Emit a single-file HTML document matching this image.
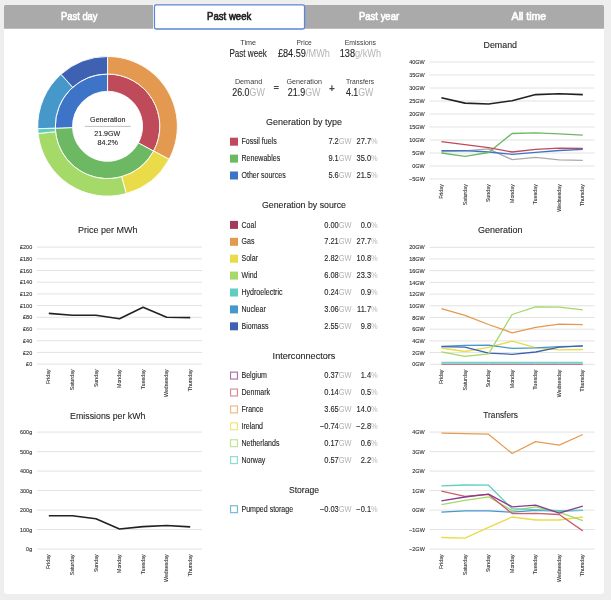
<!DOCTYPE html>
<html><head><meta charset="utf-8"><style>
html,body{margin:0;padding:0;background:#eeeeee;width:611px;height:600px;overflow:hidden;}
.panel{position:absolute;left:4px;top:5px;width:600px;height:589px;background:#fff;border-radius:3px;}
svg{position:absolute;left:0;top:0;font-family:"Liberation Sans", sans-serif;will-change:transform;}
</style></head><body>
<div class="panel"></div>
<svg width="611" height="600" viewBox="0 0 611 600">
<path d="M4,6.5 a1.5,1.5 0 0 1 1.5,-1.5 H602.5 a1.5,1.5 0 0 1 1.5,1.5 V28.8 H4 Z" fill="#aaaaaa"/>
<rect x="153" y="4.5" width="1.2" height="24.5" fill="#fff"/>
<rect x="154.45" y="4.9" width="150.1" height="24.1" rx="1.8" fill="#fff" stroke="#5b87d8" stroke-width="1.3"/>
<text x="79.25" y="20.00" font-size="10.0" text-anchor="middle" fill="#fff" font-weight="normal" stroke="#fff" stroke-width="0.6"  textLength="36.7" lengthAdjust="spacingAndGlyphs">Past day</text>
<text x="229.20" y="20.00" font-size="10.0" text-anchor="middle" fill="#222" font-weight="normal" stroke="#222" stroke-width="0.6"  textLength="44.2" lengthAdjust="spacingAndGlyphs">Past week</text>
<text x="379.05" y="20.00" font-size="10.0" text-anchor="middle" fill="#fff" font-weight="normal" stroke="#fff" stroke-width="0.6"  textLength="40.1" lengthAdjust="spacingAndGlyphs">Past year</text>
<text x="528.90" y="20.00" font-size="10.0" text-anchor="middle" fill="#fff" font-weight="normal" stroke="#fff" stroke-width="0.6"  textLength="34.6" lengthAdjust="spacingAndGlyphs">All time</text>
<path d="M107.55,74.00 A52.3,52.3 0 0 1 153.57,151.14 L138.35,142.92 A35.0,35.0 0 0 0 107.55,91.30 Z" fill="#be4a5a" stroke="#fff" stroke-width="0.9" stroke-linejoin="round"/>
<path d="M153.57,151.14 A52.3,52.3 0 0 1 55.28,128.18 L72.57,127.55 A35.0,35.0 0 0 0 138.35,142.92 Z" fill="#6cb863" stroke="#fff" stroke-width="0.9" stroke-linejoin="round"/>
<path d="M55.28,128.18 A52.3,52.3 0 0 1 107.55,74.00 L107.55,91.30 A35.0,35.0 0 0 0 72.57,127.55 Z" fill="#3d74c8" stroke="#fff" stroke-width="0.9" stroke-linejoin="round"/>
<path d="M107.55,56.50 A69.8,69.8 0 0 1 169.07,159.28 L153.64,151.01 A52.3,52.3 0 0 0 107.55,74.00 Z" fill="#e39a50" stroke="#fff" stroke-width="0.9" stroke-linejoin="round"/>
<path d="M169.07,159.28 A69.8,69.8 0 0 1 126.29,193.54 L121.59,176.68 A52.3,52.3 0 0 0 153.64,151.01 Z" fill="#eadb49" stroke="#fff" stroke-width="0.9" stroke-linejoin="round"/>
<path d="M126.29,193.54 A69.8,69.8 0 0 1 38.12,133.48 L55.53,131.68 A52.3,52.3 0 0 0 121.59,176.68 Z" fill="#a5d968" stroke="#fff" stroke-width="0.9" stroke-linejoin="round"/>
<path d="M38.12,133.48 A69.8,69.8 0 0 1 37.79,128.70 L55.28,128.10 A52.3,52.3 0 0 0 55.53,131.68 Z" fill="#5fcec0" stroke="#fff" stroke-width="0.9" stroke-linejoin="round"/>
<path d="M37.79,128.70 A69.8,69.8 0 0 1 61.02,74.27 L72.69,87.31 A52.3,52.3 0 0 0 55.28,128.10 Z" fill="#4598c9" stroke="#fff" stroke-width="0.9" stroke-linejoin="round"/>
<path d="M61.02,74.27 A69.8,69.8 0 0 1 107.55,56.50 L107.55,74.00 A52.3,52.3 0 0 0 72.69,87.31 Z" fill="#3f61b2" stroke="#fff" stroke-width="0.9" stroke-linejoin="round"/>
<text x="107.75" y="121.70" font-size="7.6" text-anchor="middle" fill="#262626" font-weight="normal" stroke="#262626" stroke-width="0.12"  textLength="35.3" lengthAdjust="spacingAndGlyphs">Generation</text>
<line x1="84.8" y1="126.4" x2="130.9" y2="126.4" stroke="#b0b0b0" stroke-width="0.8"/>
<text x="107.25" y="135.50" font-size="7.6" text-anchor="middle" fill="#262626" font-weight="normal" stroke="#262626" stroke-width="0.12"  textLength="26.0" lengthAdjust="spacingAndGlyphs">21.9GW</text>
<text x="107.60" y="145.40" font-size="7.6" text-anchor="middle" fill="#262626" font-weight="normal" stroke="#262626" stroke-width="0.12"  textLength="20.4" lengthAdjust="spacingAndGlyphs">84.2%</text>
<text x="500.25" y="47.70" font-size="9.9" text-anchor="middle" fill="#262626" font-weight="normal" stroke="#262626" stroke-width="0.12"  textLength="33.5" lengthAdjust="spacingAndGlyphs">Demand</text>
<line x1="429.6" y1="62.00" x2="594.6" y2="62.00" stroke="#e2e2e2" stroke-width="1"/>
<text transform="translate(424.80,64.10) scale(0.93,1)" font-size="5.9" text-anchor="end" fill="#333333" stroke="#333333" stroke-width="0.12">40GW</text>
<line x1="429.6" y1="75.00" x2="594.6" y2="75.00" stroke="#e2e2e2" stroke-width="1"/>
<text transform="translate(424.80,77.10) scale(0.93,1)" font-size="5.9" text-anchor="end" fill="#333333" stroke="#333333" stroke-width="0.12">35GW</text>
<line x1="429.6" y1="88.00" x2="594.6" y2="88.00" stroke="#e2e2e2" stroke-width="1"/>
<text transform="translate(424.80,90.10) scale(0.93,1)" font-size="5.9" text-anchor="end" fill="#333333" stroke="#333333" stroke-width="0.12">30GW</text>
<line x1="429.6" y1="101.00" x2="594.6" y2="101.00" stroke="#e2e2e2" stroke-width="1"/>
<text transform="translate(424.80,103.10) scale(0.93,1)" font-size="5.9" text-anchor="end" fill="#333333" stroke="#333333" stroke-width="0.12">25GW</text>
<line x1="429.6" y1="114.00" x2="594.6" y2="114.00" stroke="#e2e2e2" stroke-width="1"/>
<text transform="translate(424.80,116.10) scale(0.93,1)" font-size="5.9" text-anchor="end" fill="#333333" stroke="#333333" stroke-width="0.12">20GW</text>
<line x1="429.6" y1="127.00" x2="594.6" y2="127.00" stroke="#e2e2e2" stroke-width="1"/>
<text transform="translate(424.80,129.10) scale(0.93,1)" font-size="5.9" text-anchor="end" fill="#333333" stroke="#333333" stroke-width="0.12">15GW</text>
<line x1="429.6" y1="140.00" x2="594.6" y2="140.00" stroke="#e2e2e2" stroke-width="1"/>
<text transform="translate(424.80,142.10) scale(0.93,1)" font-size="5.9" text-anchor="end" fill="#333333" stroke="#333333" stroke-width="0.12">10GW</text>
<line x1="429.6" y1="153.00" x2="594.6" y2="153.00" stroke="#e2e2e2" stroke-width="1"/>
<text transform="translate(424.80,155.10) scale(0.93,1)" font-size="5.9" text-anchor="end" fill="#333333" stroke="#333333" stroke-width="0.12">5GW</text>
<line x1="429.6" y1="166.00" x2="594.6" y2="166.00" stroke="#e2e2e2" stroke-width="1"/>
<text transform="translate(424.80,168.10) scale(0.93,1)" font-size="5.9" text-anchor="end" fill="#333333" stroke="#333333" stroke-width="0.12">0GW</text>
<line x1="429.6" y1="179.00" x2="594.6" y2="179.00" stroke="#e2e2e2" stroke-width="1"/>
<text transform="translate(424.80,181.10) scale(0.93,1)" font-size="5.9" text-anchor="end" fill="#333333" stroke="#333333" stroke-width="0.12">−5GW</text>
<text transform="translate(442.99,184.20) rotate(-90) scale(0.94,1)" font-size="5.6" text-anchor="end" fill="#333333" stroke="#333333" stroke-width="0.1">Friday</text>
<text transform="translate(466.56,184.20) rotate(-90) scale(0.94,1)" font-size="5.6" text-anchor="end" fill="#333333" stroke="#333333" stroke-width="0.1">Saturday</text>
<text transform="translate(490.13,184.20) rotate(-90) scale(0.94,1)" font-size="5.6" text-anchor="end" fill="#333333" stroke="#333333" stroke-width="0.1">Sunday</text>
<text transform="translate(513.70,184.20) rotate(-90) scale(0.94,1)" font-size="5.6" text-anchor="end" fill="#333333" stroke="#333333" stroke-width="0.1">Monday</text>
<text transform="translate(537.27,184.20) rotate(-90) scale(0.94,1)" font-size="5.6" text-anchor="end" fill="#333333" stroke="#333333" stroke-width="0.1">Tuesday</text>
<text transform="translate(560.84,184.20) rotate(-90) scale(0.94,1)" font-size="5.6" text-anchor="end" fill="#333333" stroke="#333333" stroke-width="0.1">Wednesday</text>
<text transform="translate(584.41,184.20) rotate(-90) scale(0.94,1)" font-size="5.6" text-anchor="end" fill="#333333" stroke="#333333" stroke-width="0.1">Thursday</text>
<polyline points="441.39,151.70 464.96,151.00 488.53,148.80 512.10,159.70 535.67,157.40 559.24,159.90 582.81,160.30" fill="none" stroke="#aaaaaa" stroke-width="1.3" stroke-linejoin="round"/>
<polyline points="441.39,150.70 464.96,150.70 488.53,152.00 512.10,154.30 535.67,152.40 559.24,150.50 582.81,149.30" fill="none" stroke="#3d74c8" stroke-width="1.3" stroke-linejoin="round"/>
<polyline points="441.39,153.00 464.96,156.30 488.53,152.50 512.10,133.50 535.67,132.80 559.24,133.80 582.81,135.10" fill="none" stroke="#6cb863" stroke-width="1.3" stroke-linejoin="round"/>
<polyline points="441.39,141.70 464.96,144.70 488.53,147.70 512.10,152.00 535.67,149.30 559.24,148.20 582.81,148.40" fill="none" stroke="#be4a5a" stroke-width="1.3" stroke-linejoin="round"/>
<polyline points="441.39,97.70 464.96,103.10 488.53,104.00 512.10,100.70 535.67,94.60 559.24,93.80 582.81,94.60" fill="none" stroke="#222222" stroke-width="1.6" stroke-linejoin="round"/>
<text x="500.35" y="233.30" font-size="9.9" text-anchor="middle" fill="#262626" font-weight="normal" stroke="#262626" stroke-width="0.12"  textLength="44.5" lengthAdjust="spacingAndGlyphs">Generation</text>
<line x1="429.6" y1="247.30" x2="594.6" y2="247.30" stroke="#e2e2e2" stroke-width="1"/>
<text transform="translate(424.80,249.40) scale(0.93,1)" font-size="5.9" text-anchor="end" fill="#333333" stroke="#333333" stroke-width="0.12">20GW</text>
<line x1="429.6" y1="259.00" x2="594.6" y2="259.00" stroke="#e2e2e2" stroke-width="1"/>
<text transform="translate(424.80,261.10) scale(0.93,1)" font-size="5.9" text-anchor="end" fill="#333333" stroke="#333333" stroke-width="0.12">18GW</text>
<line x1="429.6" y1="270.70" x2="594.6" y2="270.70" stroke="#e2e2e2" stroke-width="1"/>
<text transform="translate(424.80,272.80) scale(0.93,1)" font-size="5.9" text-anchor="end" fill="#333333" stroke="#333333" stroke-width="0.12">16GW</text>
<line x1="429.6" y1="282.40" x2="594.6" y2="282.40" stroke="#e2e2e2" stroke-width="1"/>
<text transform="translate(424.80,284.50) scale(0.93,1)" font-size="5.9" text-anchor="end" fill="#333333" stroke="#333333" stroke-width="0.12">14GW</text>
<line x1="429.6" y1="294.10" x2="594.6" y2="294.10" stroke="#e2e2e2" stroke-width="1"/>
<text transform="translate(424.80,296.20) scale(0.93,1)" font-size="5.9" text-anchor="end" fill="#333333" stroke="#333333" stroke-width="0.12">12GW</text>
<line x1="429.6" y1="305.80" x2="594.6" y2="305.80" stroke="#e2e2e2" stroke-width="1"/>
<text transform="translate(424.80,307.90) scale(0.93,1)" font-size="5.9" text-anchor="end" fill="#333333" stroke="#333333" stroke-width="0.12">10GW</text>
<line x1="429.6" y1="317.50" x2="594.6" y2="317.50" stroke="#e2e2e2" stroke-width="1"/>
<text transform="translate(424.80,319.60) scale(0.93,1)" font-size="5.9" text-anchor="end" fill="#333333" stroke="#333333" stroke-width="0.12">8GW</text>
<line x1="429.6" y1="329.20" x2="594.6" y2="329.20" stroke="#e2e2e2" stroke-width="1"/>
<text transform="translate(424.80,331.30) scale(0.93,1)" font-size="5.9" text-anchor="end" fill="#333333" stroke="#333333" stroke-width="0.12">6GW</text>
<line x1="429.6" y1="340.90" x2="594.6" y2="340.90" stroke="#e2e2e2" stroke-width="1"/>
<text transform="translate(424.80,343.00) scale(0.93,1)" font-size="5.9" text-anchor="end" fill="#333333" stroke="#333333" stroke-width="0.12">4GW</text>
<line x1="429.6" y1="352.60" x2="594.6" y2="352.60" stroke="#e2e2e2" stroke-width="1"/>
<text transform="translate(424.80,354.70) scale(0.93,1)" font-size="5.9" text-anchor="end" fill="#333333" stroke="#333333" stroke-width="0.12">2GW</text>
<line x1="429.6" y1="364.30" x2="594.6" y2="364.30" stroke="#e2e2e2" stroke-width="1"/>
<text transform="translate(424.80,366.40) scale(0.93,1)" font-size="5.9" text-anchor="end" fill="#333333" stroke="#333333" stroke-width="0.12">0GW</text>
<text transform="translate(442.99,369.50) rotate(-90) scale(0.94,1)" font-size="5.6" text-anchor="end" fill="#333333" stroke="#333333" stroke-width="0.1">Friday</text>
<text transform="translate(466.56,369.50) rotate(-90) scale(0.94,1)" font-size="5.6" text-anchor="end" fill="#333333" stroke="#333333" stroke-width="0.1">Saturday</text>
<text transform="translate(490.13,369.50) rotate(-90) scale(0.94,1)" font-size="5.6" text-anchor="end" fill="#333333" stroke="#333333" stroke-width="0.1">Sunday</text>
<text transform="translate(513.70,369.50) rotate(-90) scale(0.94,1)" font-size="5.6" text-anchor="end" fill="#333333" stroke="#333333" stroke-width="0.1">Monday</text>
<text transform="translate(537.27,369.50) rotate(-90) scale(0.94,1)" font-size="5.6" text-anchor="end" fill="#333333" stroke="#333333" stroke-width="0.1">Tuesday</text>
<text transform="translate(560.84,369.50) rotate(-90) scale(0.94,1)" font-size="5.6" text-anchor="end" fill="#333333" stroke="#333333" stroke-width="0.1">Wednesday</text>
<text transform="translate(584.41,369.50) rotate(-90) scale(0.94,1)" font-size="5.6" text-anchor="end" fill="#333333" stroke="#333333" stroke-width="0.1">Thursday</text>
<polyline points="441.39,364.30 464.96,364.30 488.53,364.30 512.10,364.30 535.67,364.30 559.24,364.30 582.81,364.30" fill="none" stroke="#c45a7a" stroke-width="1.0" stroke-linejoin="round"/>
<polyline points="441.39,362.80 464.96,362.80 488.53,362.80 512.10,362.80 535.67,362.80 559.24,362.80 582.81,362.80" fill="none" stroke="#74d2c6" stroke-width="1.9" stroke-linejoin="round"/>
<polyline points="441.39,348.00 464.96,351.50 488.53,347.40 512.10,341.20 535.67,347.60 559.24,349.90 582.81,349.50" fill="none" stroke="#eadb49" stroke-width="1.3" stroke-linejoin="round"/>
<polyline points="441.39,346.40 464.96,345.40 488.53,345.10 512.10,348.40 535.67,347.90 559.24,346.70 582.81,346.20" fill="none" stroke="#4598c9" stroke-width="1.3" stroke-linejoin="round"/>
<polyline points="441.39,346.70 464.96,347.10 488.53,353.20 512.10,354.30 535.67,352.00 559.24,347.20 582.81,345.80" fill="none" stroke="#3f61b2" stroke-width="1.3" stroke-linejoin="round"/>
<polyline points="441.39,351.90 464.96,356.30 488.53,353.90 512.10,314.50 535.67,306.80 559.24,307.20 582.81,309.90" fill="none" stroke="#a5d968" stroke-width="1.3" stroke-linejoin="round"/>
<polyline points="441.39,308.70 464.96,315.30 488.53,324.50 512.10,332.80 535.67,327.30 559.24,324.20 582.81,324.60" fill="none" stroke="#e39a50" stroke-width="1.3" stroke-linejoin="round"/>
<text x="500.60" y="418.40" font-size="9.9" text-anchor="middle" fill="#262626" font-weight="normal" stroke="#262626" stroke-width="0.12"  textLength="34.6" lengthAdjust="spacingAndGlyphs">Transfers</text>
<line x1="429.6" y1="432.10" x2="594.6" y2="432.10" stroke="#e2e2e2" stroke-width="1"/>
<text transform="translate(424.80,434.20) scale(0.93,1)" font-size="5.9" text-anchor="end" fill="#333333" stroke="#333333" stroke-width="0.12">4GW</text>
<line x1="429.6" y1="451.60" x2="594.6" y2="451.60" stroke="#e2e2e2" stroke-width="1"/>
<text transform="translate(424.80,453.70) scale(0.93,1)" font-size="5.9" text-anchor="end" fill="#333333" stroke="#333333" stroke-width="0.12">3GW</text>
<line x1="429.6" y1="471.10" x2="594.6" y2="471.10" stroke="#e2e2e2" stroke-width="1"/>
<text transform="translate(424.80,473.20) scale(0.93,1)" font-size="5.9" text-anchor="end" fill="#333333" stroke="#333333" stroke-width="0.12">2GW</text>
<line x1="429.6" y1="490.60" x2="594.6" y2="490.60" stroke="#e2e2e2" stroke-width="1"/>
<text transform="translate(424.80,492.70) scale(0.93,1)" font-size="5.9" text-anchor="end" fill="#333333" stroke="#333333" stroke-width="0.12">1GW</text>
<line x1="429.6" y1="510.10" x2="594.6" y2="510.10" stroke="#e2e2e2" stroke-width="1"/>
<text transform="translate(424.80,512.20) scale(0.93,1)" font-size="5.9" text-anchor="end" fill="#333333" stroke="#333333" stroke-width="0.12">0GW</text>
<line x1="429.6" y1="529.60" x2="594.6" y2="529.60" stroke="#e2e2e2" stroke-width="1"/>
<text transform="translate(424.80,531.70) scale(0.93,1)" font-size="5.9" text-anchor="end" fill="#333333" stroke="#333333" stroke-width="0.12">−1GW</text>
<line x1="429.6" y1="549.10" x2="594.6" y2="549.10" stroke="#e2e2e2" stroke-width="1"/>
<text transform="translate(424.80,551.20) scale(0.93,1)" font-size="5.9" text-anchor="end" fill="#333333" stroke="#333333" stroke-width="0.12">−2GW</text>
<text transform="translate(442.99,554.30) rotate(-90) scale(0.94,1)" font-size="5.6" text-anchor="end" fill="#333333" stroke="#333333" stroke-width="0.1">Friday</text>
<text transform="translate(466.56,554.30) rotate(-90) scale(0.94,1)" font-size="5.6" text-anchor="end" fill="#333333" stroke="#333333" stroke-width="0.1">Saturday</text>
<text transform="translate(490.13,554.30) rotate(-90) scale(0.94,1)" font-size="5.6" text-anchor="end" fill="#333333" stroke="#333333" stroke-width="0.1">Sunday</text>
<text transform="translate(513.70,554.30) rotate(-90) scale(0.94,1)" font-size="5.6" text-anchor="end" fill="#333333" stroke="#333333" stroke-width="0.1">Monday</text>
<text transform="translate(537.27,554.30) rotate(-90) scale(0.94,1)" font-size="5.6" text-anchor="end" fill="#333333" stroke="#333333" stroke-width="0.1">Tuesday</text>
<text transform="translate(560.84,554.30) rotate(-90) scale(0.94,1)" font-size="5.6" text-anchor="end" fill="#333333" stroke="#333333" stroke-width="0.1">Wednesday</text>
<text transform="translate(584.41,554.30) rotate(-90) scale(0.94,1)" font-size="5.6" text-anchor="end" fill="#333333" stroke="#333333" stroke-width="0.1">Thursday</text>
<polyline points="441.39,512.20 464.96,510.90 488.53,510.90 512.10,512.20 535.67,510.30 559.24,511.00 582.81,510.30" fill="none" stroke="#4598c9" stroke-width="1.3" stroke-linejoin="round"/>
<polyline points="441.39,537.50 464.96,538.10 488.53,527.30 512.10,517.00 535.67,520.00 559.24,520.00 582.81,517.00" fill="none" stroke="#eadb49" stroke-width="1.3" stroke-linejoin="round"/>
<polyline points="441.39,504.60 464.96,500.30 488.53,496.80 512.10,510.60 535.67,506.80 559.24,512.40 582.81,520.70" fill="none" stroke="#a5d968" stroke-width="1.3" stroke-linejoin="round"/>
<polyline points="441.39,491.10 464.96,496.40 488.53,494.40 512.10,513.60 535.67,513.40 559.24,514.50 582.81,530.90" fill="none" stroke="#c9606e" stroke-width="1.3" stroke-linejoin="round"/>
<polyline points="441.39,485.90 464.96,485.00 488.53,485.20 512.10,508.70 535.67,509.60 559.24,510.60 582.81,510.30" fill="none" stroke="#5fcec0" stroke-width="1.3" stroke-linejoin="round"/>
<polyline points="441.39,500.90 464.96,497.00 488.53,494.10 512.10,506.80 535.67,505.20 559.24,513.10 582.81,506.10" fill="none" stroke="#8a3c8c" stroke-width="1.3" stroke-linejoin="round"/>
<polyline points="441.39,433.20 464.96,433.60 488.53,434.20 512.10,453.50 535.67,441.70 559.24,445.20 582.81,434.50" fill="none" stroke="#e49d56" stroke-width="1.3" stroke-linejoin="round"/>
<text x="107.75" y="233.10" font-size="9.9" text-anchor="middle" fill="#262626" font-weight="normal" stroke="#262626" stroke-width="0.12"  textLength="59.3" lengthAdjust="spacingAndGlyphs">Price per MWh</text>
<line x1="37.0" y1="247.10" x2="202.0" y2="247.10" stroke="#e2e2e2" stroke-width="1"/>
<text transform="translate(32.20,249.20) scale(0.93,1)" font-size="5.9" text-anchor="end" fill="#333333" stroke="#333333" stroke-width="0.12">£200</text>
<line x1="37.0" y1="258.80" x2="202.0" y2="258.80" stroke="#e2e2e2" stroke-width="1"/>
<text transform="translate(32.20,260.90) scale(0.93,1)" font-size="5.9" text-anchor="end" fill="#333333" stroke="#333333" stroke-width="0.12">£180</text>
<line x1="37.0" y1="270.50" x2="202.0" y2="270.50" stroke="#e2e2e2" stroke-width="1"/>
<text transform="translate(32.20,272.60) scale(0.93,1)" font-size="5.9" text-anchor="end" fill="#333333" stroke="#333333" stroke-width="0.12">£160</text>
<line x1="37.0" y1="282.20" x2="202.0" y2="282.20" stroke="#e2e2e2" stroke-width="1"/>
<text transform="translate(32.20,284.30) scale(0.93,1)" font-size="5.9" text-anchor="end" fill="#333333" stroke="#333333" stroke-width="0.12">£140</text>
<line x1="37.0" y1="293.90" x2="202.0" y2="293.90" stroke="#e2e2e2" stroke-width="1"/>
<text transform="translate(32.20,296.00) scale(0.93,1)" font-size="5.9" text-anchor="end" fill="#333333" stroke="#333333" stroke-width="0.12">£120</text>
<line x1="37.0" y1="305.60" x2="202.0" y2="305.60" stroke="#e2e2e2" stroke-width="1"/>
<text transform="translate(32.20,307.70) scale(0.93,1)" font-size="5.9" text-anchor="end" fill="#333333" stroke="#333333" stroke-width="0.12">£100</text>
<line x1="37.0" y1="317.30" x2="202.0" y2="317.30" stroke="#e2e2e2" stroke-width="1"/>
<text transform="translate(32.20,319.40) scale(0.93,1)" font-size="5.9" text-anchor="end" fill="#333333" stroke="#333333" stroke-width="0.12">£80</text>
<line x1="37.0" y1="329.00" x2="202.0" y2="329.00" stroke="#e2e2e2" stroke-width="1"/>
<text transform="translate(32.20,331.10) scale(0.93,1)" font-size="5.9" text-anchor="end" fill="#333333" stroke="#333333" stroke-width="0.12">£60</text>
<line x1="37.0" y1="340.70" x2="202.0" y2="340.70" stroke="#e2e2e2" stroke-width="1"/>
<text transform="translate(32.20,342.80) scale(0.93,1)" font-size="5.9" text-anchor="end" fill="#333333" stroke="#333333" stroke-width="0.12">£40</text>
<line x1="37.0" y1="352.40" x2="202.0" y2="352.40" stroke="#e2e2e2" stroke-width="1"/>
<text transform="translate(32.20,354.50) scale(0.93,1)" font-size="5.9" text-anchor="end" fill="#333333" stroke="#333333" stroke-width="0.12">£20</text>
<line x1="37.0" y1="364.10" x2="202.0" y2="364.10" stroke="#e2e2e2" stroke-width="1"/>
<text transform="translate(32.20,366.20) scale(0.93,1)" font-size="5.9" text-anchor="end" fill="#333333" stroke="#333333" stroke-width="0.12">£0</text>
<text transform="translate(50.39,369.30) rotate(-90) scale(0.94,1)" font-size="5.6" text-anchor="end" fill="#333333" stroke="#333333" stroke-width="0.1">Friday</text>
<text transform="translate(73.96,369.30) rotate(-90) scale(0.94,1)" font-size="5.6" text-anchor="end" fill="#333333" stroke="#333333" stroke-width="0.1">Saturday</text>
<text transform="translate(97.53,369.30) rotate(-90) scale(0.94,1)" font-size="5.6" text-anchor="end" fill="#333333" stroke="#333333" stroke-width="0.1">Sunday</text>
<text transform="translate(121.10,369.30) rotate(-90) scale(0.94,1)" font-size="5.6" text-anchor="end" fill="#333333" stroke="#333333" stroke-width="0.1">Monday</text>
<text transform="translate(144.67,369.30) rotate(-90) scale(0.94,1)" font-size="5.6" text-anchor="end" fill="#333333" stroke="#333333" stroke-width="0.1">Tuesday</text>
<text transform="translate(168.24,369.30) rotate(-90) scale(0.94,1)" font-size="5.6" text-anchor="end" fill="#333333" stroke="#333333" stroke-width="0.1">Wednesday</text>
<text transform="translate(191.81,369.30) rotate(-90) scale(0.94,1)" font-size="5.6" text-anchor="end" fill="#333333" stroke="#333333" stroke-width="0.1">Thursday</text>
<polyline points="48.79,313.40 72.36,315.30 95.93,315.30 119.50,318.80 143.07,307.20 166.64,317.30 190.21,317.60" fill="none" stroke="#222222" stroke-width="1.6" stroke-linejoin="round"/>
<text x="107.75" y="418.50" font-size="9.9" text-anchor="middle" fill="#262626" font-weight="normal" stroke="#262626" stroke-width="0.12"  textLength="75.3" lengthAdjust="spacingAndGlyphs">Emissions per kWh</text>
<line x1="37.0" y1="432.10" x2="202.0" y2="432.10" stroke="#e2e2e2" stroke-width="1"/>
<text transform="translate(32.20,434.20) scale(0.93,1)" font-size="5.9" text-anchor="end" fill="#333333" stroke="#333333" stroke-width="0.12">600g</text>
<line x1="37.0" y1="451.60" x2="202.0" y2="451.60" stroke="#e2e2e2" stroke-width="1"/>
<text transform="translate(32.20,453.70) scale(0.93,1)" font-size="5.9" text-anchor="end" fill="#333333" stroke="#333333" stroke-width="0.12">500g</text>
<line x1="37.0" y1="471.10" x2="202.0" y2="471.10" stroke="#e2e2e2" stroke-width="1"/>
<text transform="translate(32.20,473.20) scale(0.93,1)" font-size="5.9" text-anchor="end" fill="#333333" stroke="#333333" stroke-width="0.12">400g</text>
<line x1="37.0" y1="490.60" x2="202.0" y2="490.60" stroke="#e2e2e2" stroke-width="1"/>
<text transform="translate(32.20,492.70) scale(0.93,1)" font-size="5.9" text-anchor="end" fill="#333333" stroke="#333333" stroke-width="0.12">300g</text>
<line x1="37.0" y1="510.10" x2="202.0" y2="510.10" stroke="#e2e2e2" stroke-width="1"/>
<text transform="translate(32.20,512.20) scale(0.93,1)" font-size="5.9" text-anchor="end" fill="#333333" stroke="#333333" stroke-width="0.12">200g</text>
<line x1="37.0" y1="529.60" x2="202.0" y2="529.60" stroke="#e2e2e2" stroke-width="1"/>
<text transform="translate(32.20,531.70) scale(0.93,1)" font-size="5.9" text-anchor="end" fill="#333333" stroke="#333333" stroke-width="0.12">100g</text>
<line x1="37.0" y1="549.10" x2="202.0" y2="549.10" stroke="#e2e2e2" stroke-width="1"/>
<text transform="translate(32.20,551.20) scale(0.93,1)" font-size="5.9" text-anchor="end" fill="#333333" stroke="#333333" stroke-width="0.12">0g</text>
<text transform="translate(50.39,554.30) rotate(-90) scale(0.94,1)" font-size="5.6" text-anchor="end" fill="#333333" stroke="#333333" stroke-width="0.1">Friday</text>
<text transform="translate(73.96,554.30) rotate(-90) scale(0.94,1)" font-size="5.6" text-anchor="end" fill="#333333" stroke="#333333" stroke-width="0.1">Saturday</text>
<text transform="translate(97.53,554.30) rotate(-90) scale(0.94,1)" font-size="5.6" text-anchor="end" fill="#333333" stroke="#333333" stroke-width="0.1">Sunday</text>
<text transform="translate(121.10,554.30) rotate(-90) scale(0.94,1)" font-size="5.6" text-anchor="end" fill="#333333" stroke="#333333" stroke-width="0.1">Monday</text>
<text transform="translate(144.67,554.30) rotate(-90) scale(0.94,1)" font-size="5.6" text-anchor="end" fill="#333333" stroke="#333333" stroke-width="0.1">Tuesday</text>
<text transform="translate(168.24,554.30) rotate(-90) scale(0.94,1)" font-size="5.6" text-anchor="end" fill="#333333" stroke="#333333" stroke-width="0.1">Wednesday</text>
<text transform="translate(191.81,554.30) rotate(-90) scale(0.94,1)" font-size="5.6" text-anchor="end" fill="#333333" stroke="#333333" stroke-width="0.1">Thursday</text>
<polyline points="48.79,515.70 72.36,515.70 95.93,518.70 119.50,529.00 143.07,526.60 166.64,525.50 190.21,526.90" fill="none" stroke="#222222" stroke-width="1.6" stroke-linejoin="round"/>
<text x="248.15" y="44.70" font-size="8.1" text-anchor="middle" fill="#3a3a3a" font-weight="normal"  textLength="15.7" lengthAdjust="spacingAndGlyphs">Time</text>
<text x="304.15" y="44.70" font-size="8.1" text-anchor="middle" fill="#3a3a3a" font-weight="normal"  textLength="15.3" lengthAdjust="spacingAndGlyphs">Price</text>
<text x="360.35" y="44.70" font-size="8.1" text-anchor="middle" fill="#3a3a3a" font-weight="normal"  textLength="31.3" lengthAdjust="spacingAndGlyphs">Emissions</text>
<text x="248.05" y="56.90" font-size="10.0" text-anchor="middle" fill="#262626" font-weight="normal" stroke="#262626" stroke-width="0.12"  textLength="37.3" lengthAdjust="spacingAndGlyphs">Past week</text>
<text x="303.90" y="56.90" font-size="10.0" text-anchor="middle" fill="#262626" font-weight="normal" stroke="#262626" stroke-width="0.12"  textLength="52.0" lengthAdjust="spacingAndGlyphs">£84.59<tspan fill="#b4b4b4" stroke="none">/MWh</tspan></text>
<text x="360.35" y="56.90" font-size="10.0" text-anchor="middle" fill="#262626" font-weight="normal" stroke="#262626" stroke-width="0.12"  textLength="41.3" lengthAdjust="spacingAndGlyphs">138<tspan fill="#b4b4b4" stroke="none">g/kWh</tspan></text>
<text x="248.55" y="83.50" font-size="8.1" text-anchor="middle" fill="#3a3a3a" font-weight="normal"  textLength="27.3" lengthAdjust="spacingAndGlyphs">Demand</text>
<text x="304.20" y="83.50" font-size="8.1" text-anchor="middle" fill="#3a3a3a" font-weight="normal"  textLength="35.4" lengthAdjust="spacingAndGlyphs">Generation</text>
<text x="360.10" y="83.50" font-size="8.1" text-anchor="middle" fill="#3a3a3a" font-weight="normal"  textLength="28.2" lengthAdjust="spacingAndGlyphs">Transfers</text>
<text x="248.50" y="96.00" font-size="10.0" text-anchor="middle" fill="#262626" font-weight="normal" stroke="#262626" stroke-width="0.12"  textLength="32.5" lengthAdjust="spacingAndGlyphs">26.0<tspan fill="#b4b4b4" stroke="none">GW</tspan></text>
<text x="304.15" y="96.00" font-size="10.0" text-anchor="middle" fill="#262626" font-weight="normal" stroke="#262626" stroke-width="0.12"  textLength="32.7" lengthAdjust="spacingAndGlyphs">21.9<tspan fill="#b4b4b4" stroke="none">GW</tspan></text>
<text x="359.70" y="96.00" font-size="10.0" text-anchor="middle" fill="#262626" font-weight="normal" stroke="#262626" stroke-width="0.12"  textLength="27.4" lengthAdjust="spacingAndGlyphs">4.1<tspan fill="#b4b4b4" stroke="none">GW</tspan></text>
<text x="276.40" y="91.00" font-size="9.5" text-anchor="middle" fill="#444" font-weight="bold" >=</text>
<text x="332.00" y="91.60" font-size="10" text-anchor="middle" fill="#444" font-weight="bold" >+</text>
<text x="304.00" y="125.00" font-size="9.8" text-anchor="middle" fill="#262626" font-weight="normal" stroke="#262626" stroke-width="0.12"  textLength="75.8" lengthAdjust="spacingAndGlyphs">Generation by type</text>
<rect x="230" y="137.70" width="8" height="8" fill="#be4a5a"/>
<text transform="translate(241.50,144.30) scale(0.86,1)" font-size="8.2" text-anchor="start" fill="#262626" font-weight="normal" stroke="#262626" stroke-width="0.12" >Fossil fuels</text>
<text transform="translate(351.60,144.30) scale(0.9,1)" font-size="8.3" text-anchor="end" fill="#262626" font-weight="normal" stroke="#262626" stroke-width="0.12" >7.2<tspan fill="#b4b4b4" stroke="none">GW</tspan></text>
<text transform="translate(377.70,144.30) scale(0.9,1)" font-size="8.3" text-anchor="end" fill="#262626" font-weight="normal" stroke="#262626" stroke-width="0.12" >27.7<tspan fill="#b4b4b4" stroke="none">%</tspan></text>
<rect x="230" y="154.60" width="8" height="8" fill="#6cb863"/>
<text transform="translate(241.50,161.20) scale(0.86,1)" font-size="8.2" text-anchor="start" fill="#262626" font-weight="normal" stroke="#262626" stroke-width="0.12" >Renewables</text>
<text transform="translate(351.60,161.20) scale(0.9,1)" font-size="8.3" text-anchor="end" fill="#262626" font-weight="normal" stroke="#262626" stroke-width="0.12" >9.1<tspan fill="#b4b4b4" stroke="none">GW</tspan></text>
<text transform="translate(377.70,161.20) scale(0.9,1)" font-size="8.3" text-anchor="end" fill="#262626" font-weight="normal" stroke="#262626" stroke-width="0.12" >35.0<tspan fill="#b4b4b4" stroke="none">%</tspan></text>
<rect x="230" y="171.50" width="8" height="8" fill="#3d74c8"/>
<text transform="translate(241.50,178.10) scale(0.86,1)" font-size="8.2" text-anchor="start" fill="#262626" font-weight="normal" stroke="#262626" stroke-width="0.12" >Other sources</text>
<text transform="translate(351.60,178.10) scale(0.9,1)" font-size="8.3" text-anchor="end" fill="#262626" font-weight="normal" stroke="#262626" stroke-width="0.12" >5.6<tspan fill="#b4b4b4" stroke="none">GW</tspan></text>
<text transform="translate(377.70,178.10) scale(0.9,1)" font-size="8.3" text-anchor="end" fill="#262626" font-weight="normal" stroke="#262626" stroke-width="0.12" >21.5<tspan fill="#b4b4b4" stroke="none">%</tspan></text>
<text x="304.00" y="208.20" font-size="9.8" text-anchor="middle" fill="#262626" font-weight="normal" stroke="#262626" stroke-width="0.12"  textLength="84.0" lengthAdjust="spacingAndGlyphs">Generation by source</text>
<rect x="230" y="220.90" width="8" height="8" fill="#a23a5d"/>
<text transform="translate(241.50,227.50) scale(0.86,1)" font-size="8.2" text-anchor="start" fill="#262626" font-weight="normal" stroke="#262626" stroke-width="0.12" >Coal</text>
<text transform="translate(351.60,227.50) scale(0.9,1)" font-size="8.3" text-anchor="end" fill="#262626" font-weight="normal" stroke="#262626" stroke-width="0.12" >0.00<tspan fill="#b4b4b4" stroke="none">GW</tspan></text>
<text transform="translate(377.70,227.50) scale(0.9,1)" font-size="8.3" text-anchor="end" fill="#262626" font-weight="normal" stroke="#262626" stroke-width="0.12" >0.0<tspan fill="#b4b4b4" stroke="none">%</tspan></text>
<rect x="230" y="237.80" width="8" height="8" fill="#e39a50"/>
<text transform="translate(241.50,244.40) scale(0.86,1)" font-size="8.2" text-anchor="start" fill="#262626" font-weight="normal" stroke="#262626" stroke-width="0.12" >Gas</text>
<text transform="translate(351.60,244.40) scale(0.9,1)" font-size="8.3" text-anchor="end" fill="#262626" font-weight="normal" stroke="#262626" stroke-width="0.12" >7.21<tspan fill="#b4b4b4" stroke="none">GW</tspan></text>
<text transform="translate(377.70,244.40) scale(0.9,1)" font-size="8.3" text-anchor="end" fill="#262626" font-weight="normal" stroke="#262626" stroke-width="0.12" >27.7<tspan fill="#b4b4b4" stroke="none">%</tspan></text>
<rect x="230" y="254.70" width="8" height="8" fill="#eadb49"/>
<text transform="translate(241.50,261.30) scale(0.86,1)" font-size="8.2" text-anchor="start" fill="#262626" font-weight="normal" stroke="#262626" stroke-width="0.12" >Solar</text>
<text transform="translate(351.60,261.30) scale(0.9,1)" font-size="8.3" text-anchor="end" fill="#262626" font-weight="normal" stroke="#262626" stroke-width="0.12" >2.82<tspan fill="#b4b4b4" stroke="none">GW</tspan></text>
<text transform="translate(377.70,261.30) scale(0.9,1)" font-size="8.3" text-anchor="end" fill="#262626" font-weight="normal" stroke="#262626" stroke-width="0.12" >10.8<tspan fill="#b4b4b4" stroke="none">%</tspan></text>
<rect x="230" y="271.60" width="8" height="8" fill="#a5d968"/>
<text transform="translate(241.50,278.20) scale(0.86,1)" font-size="8.2" text-anchor="start" fill="#262626" font-weight="normal" stroke="#262626" stroke-width="0.12" >Wind</text>
<text transform="translate(351.60,278.20) scale(0.9,1)" font-size="8.3" text-anchor="end" fill="#262626" font-weight="normal" stroke="#262626" stroke-width="0.12" >6.08<tspan fill="#b4b4b4" stroke="none">GW</tspan></text>
<text transform="translate(377.70,278.20) scale(0.9,1)" font-size="8.3" text-anchor="end" fill="#262626" font-weight="normal" stroke="#262626" stroke-width="0.12" >23.3<tspan fill="#b4b4b4" stroke="none">%</tspan></text>
<rect x="230" y="288.50" width="8" height="8" fill="#5fcec0"/>
<text transform="translate(241.50,295.10) scale(0.86,1)" font-size="8.2" text-anchor="start" fill="#262626" font-weight="normal" stroke="#262626" stroke-width="0.12" >Hydroelectric</text>
<text transform="translate(351.60,295.10) scale(0.9,1)" font-size="8.3" text-anchor="end" fill="#262626" font-weight="normal" stroke="#262626" stroke-width="0.12" >0.24<tspan fill="#b4b4b4" stroke="none">GW</tspan></text>
<text transform="translate(377.70,295.10) scale(0.9,1)" font-size="8.3" text-anchor="end" fill="#262626" font-weight="normal" stroke="#262626" stroke-width="0.12" >0.9<tspan fill="#b4b4b4" stroke="none">%</tspan></text>
<rect x="230" y="305.40" width="8" height="8" fill="#4598c9"/>
<text transform="translate(241.50,312.00) scale(0.86,1)" font-size="8.2" text-anchor="start" fill="#262626" font-weight="normal" stroke="#262626" stroke-width="0.12" >Nuclear</text>
<text transform="translate(351.60,312.00) scale(0.9,1)" font-size="8.3" text-anchor="end" fill="#262626" font-weight="normal" stroke="#262626" stroke-width="0.12" >3.06<tspan fill="#b4b4b4" stroke="none">GW</tspan></text>
<text transform="translate(377.70,312.00) scale(0.9,1)" font-size="8.3" text-anchor="end" fill="#262626" font-weight="normal" stroke="#262626" stroke-width="0.12" >11.7<tspan fill="#b4b4b4" stroke="none">%</tspan></text>
<rect x="230" y="322.30" width="8" height="8" fill="#3f61b2"/>
<text transform="translate(241.50,328.90) scale(0.86,1)" font-size="8.2" text-anchor="start" fill="#262626" font-weight="normal" stroke="#262626" stroke-width="0.12" >Biomass</text>
<text transform="translate(351.60,328.90) scale(0.9,1)" font-size="8.3" text-anchor="end" fill="#262626" font-weight="normal" stroke="#262626" stroke-width="0.12" >2.55<tspan fill="#b4b4b4" stroke="none">GW</tspan></text>
<text transform="translate(377.70,328.90) scale(0.9,1)" font-size="8.3" text-anchor="end" fill="#262626" font-weight="normal" stroke="#262626" stroke-width="0.12" >9.8<tspan fill="#b4b4b4" stroke="none">%</tspan></text>
<text x="304.00" y="358.90" font-size="9.8" text-anchor="middle" fill="#262626" font-weight="normal" stroke="#262626" stroke-width="0.12"  textLength="62.8" lengthAdjust="spacingAndGlyphs">Interconnectors</text>
<rect x="230.55" y="372.15" width="6.9" height="6.9" fill="#fff" stroke="#8a3c8c" stroke-width="1.15" stroke-opacity="0.72"/>
<text transform="translate(241.50,378.20) scale(0.86,1)" font-size="8.2" text-anchor="start" fill="#262626" font-weight="normal" stroke="#262626" stroke-width="0.12" >Belgium</text>
<text transform="translate(351.60,378.20) scale(0.9,1)" font-size="8.3" text-anchor="end" fill="#262626" font-weight="normal" stroke="#262626" stroke-width="0.12" >0.37<tspan fill="#b4b4b4" stroke="none">GW</tspan></text>
<text transform="translate(377.70,378.20) scale(0.9,1)" font-size="8.3" text-anchor="end" fill="#262626" font-weight="normal" stroke="#262626" stroke-width="0.12" >1.4<tspan fill="#b4b4b4" stroke="none">%</tspan></text>
<rect x="230.55" y="389.05" width="6.9" height="6.9" fill="#fff" stroke="#c9606e" stroke-width="1.15" stroke-opacity="0.72"/>
<text transform="translate(241.50,395.10) scale(0.86,1)" font-size="8.2" text-anchor="start" fill="#262626" font-weight="normal" stroke="#262626" stroke-width="0.12" >Denmark</text>
<text transform="translate(351.60,395.10) scale(0.9,1)" font-size="8.3" text-anchor="end" fill="#262626" font-weight="normal" stroke="#262626" stroke-width="0.12" >0.14<tspan fill="#b4b4b4" stroke="none">GW</tspan></text>
<text transform="translate(377.70,395.10) scale(0.9,1)" font-size="8.3" text-anchor="end" fill="#262626" font-weight="normal" stroke="#262626" stroke-width="0.12" >0.5<tspan fill="#b4b4b4" stroke="none">%</tspan></text>
<rect x="230.55" y="405.95" width="6.9" height="6.9" fill="#fff" stroke="#e49d56" stroke-width="1.15" stroke-opacity="0.72"/>
<text transform="translate(241.50,412.00) scale(0.86,1)" font-size="8.2" text-anchor="start" fill="#262626" font-weight="normal" stroke="#262626" stroke-width="0.12" >France</text>
<text transform="translate(351.60,412.00) scale(0.9,1)" font-size="8.3" text-anchor="end" fill="#262626" font-weight="normal" stroke="#262626" stroke-width="0.12" >3.65<tspan fill="#b4b4b4" stroke="none">GW</tspan></text>
<text transform="translate(377.70,412.00) scale(0.9,1)" font-size="8.3" text-anchor="end" fill="#262626" font-weight="normal" stroke="#262626" stroke-width="0.12" >14.0<tspan fill="#b4b4b4" stroke="none">%</tspan></text>
<rect x="230.55" y="422.85" width="6.9" height="6.9" fill="#fff" stroke="#eadb49" stroke-width="1.15" stroke-opacity="0.72"/>
<text transform="translate(241.50,428.90) scale(0.86,1)" font-size="8.2" text-anchor="start" fill="#262626" font-weight="normal" stroke="#262626" stroke-width="0.12" >Ireland</text>
<text transform="translate(351.60,428.90) scale(0.9,1)" font-size="8.3" text-anchor="end" fill="#262626" font-weight="normal" stroke="#262626" stroke-width="0.12" >−0.74<tspan fill="#b4b4b4" stroke="none">GW</tspan></text>
<text transform="translate(377.70,428.90) scale(0.9,1)" font-size="8.3" text-anchor="end" fill="#262626" font-weight="normal" stroke="#262626" stroke-width="0.12" >−2.8<tspan fill="#b4b4b4" stroke="none">%</tspan></text>
<rect x="230.55" y="439.75" width="6.9" height="6.9" fill="#fff" stroke="#a5d968" stroke-width="1.15" stroke-opacity="0.72"/>
<text transform="translate(241.50,445.80) scale(0.86,1)" font-size="8.2" text-anchor="start" fill="#262626" font-weight="normal" stroke="#262626" stroke-width="0.12" >Netherlands</text>
<text transform="translate(351.60,445.80) scale(0.9,1)" font-size="8.3" text-anchor="end" fill="#262626" font-weight="normal" stroke="#262626" stroke-width="0.12" >0.17<tspan fill="#b4b4b4" stroke="none">GW</tspan></text>
<text transform="translate(377.70,445.80) scale(0.9,1)" font-size="8.3" text-anchor="end" fill="#262626" font-weight="normal" stroke="#262626" stroke-width="0.12" >0.6<tspan fill="#b4b4b4" stroke="none">%</tspan></text>
<rect x="230.55" y="456.65" width="6.9" height="6.9" fill="#fff" stroke="#5fcec0" stroke-width="1.15" stroke-opacity="0.72"/>
<text transform="translate(241.50,462.70) scale(0.86,1)" font-size="8.2" text-anchor="start" fill="#262626" font-weight="normal" stroke="#262626" stroke-width="0.12" >Norway</text>
<text transform="translate(351.60,462.70) scale(0.9,1)" font-size="8.3" text-anchor="end" fill="#262626" font-weight="normal" stroke="#262626" stroke-width="0.12" >0.57<tspan fill="#b4b4b4" stroke="none">GW</tspan></text>
<text transform="translate(377.70,462.70) scale(0.9,1)" font-size="8.3" text-anchor="end" fill="#262626" font-weight="normal" stroke="#262626" stroke-width="0.12" >2.2<tspan fill="#b4b4b4" stroke="none">%</tspan></text>
<text x="304.00" y="492.50" font-size="9.8" text-anchor="middle" fill="#262626" font-weight="normal" stroke="#262626" stroke-width="0.12"  textLength="30.1" lengthAdjust="spacingAndGlyphs">Storage</text>
<rect x="230.55" y="505.75" width="6.9" height="6.9" fill="#fff" stroke="#4598c9" stroke-width="1.15" stroke-opacity="0.72"/>
<text transform="translate(241.50,511.80) scale(0.86,1)" font-size="8.2" text-anchor="start" fill="#262626" font-weight="normal" stroke="#262626" stroke-width="0.12" >Pumped storage</text>
<text transform="translate(351.60,511.80) scale(0.9,1)" font-size="8.3" text-anchor="end" fill="#262626" font-weight="normal" stroke="#262626" stroke-width="0.12" >−0.03<tspan fill="#b4b4b4" stroke="none">GW</tspan></text>
<text transform="translate(377.70,511.80) scale(0.9,1)" font-size="8.3" text-anchor="end" fill="#262626" font-weight="normal" stroke="#262626" stroke-width="0.12" >−0.1<tspan fill="#b4b4b4" stroke="none">%</tspan></text>
</svg>
</body></html>
